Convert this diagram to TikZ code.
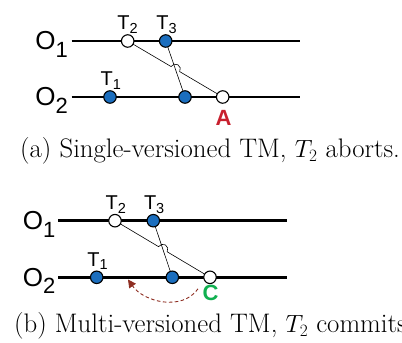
\documentclass[tikz,border=0pt]{standalone}
\usepackage{fontspec}
\newfontfamily\arialf{Liberation Sans}
\usetikzlibrary{calc,arrows.meta}
\definecolor{tmblue}{RGB}{27,110,190}
\definecolor{tmred}{RGB}{200,32,46}
\definecolor{tmgreen}{RGB}{16,176,80}
\definecolor{tmarrow}{RGB}{142,46,34}
\tikzset{
  objline/.style={line width=2.8pt},
  link/.style={line width=0.6pt},
  txwhite/.style={circle, draw=black, line width=1.1pt, fill=white, minimum size=12.5pt, inner sep=0pt},
  txblue/.style={circle, draw=black, line width=1.1pt, fill=tmblue, minimum size=12.5pt, inner sep=0pt},
  objlabel/.style={font=\arialf\fontsize{26}{26}\selectfont, anchor=base west, inner sep=0pt},
  tlabel/.style={font=\arialf\fontsize{20}{20}\selectfont, anchor=base west, inner sep=0pt},
  statelabel/.style={font=\arialf\bfseries\fontsize{22}{22}\selectfont, inner sep=0pt},
  caption/.style={font=\fontsize{26.8}{30}\selectfont, anchor=base west, inner sep=0pt},
  backarrow/.style={draw=tmarrow, line width=0.9pt, dash pattern=on 3.5pt off 2.5pt, -{Triangle[length=8pt,width=8pt]}}
}
\newcommand{\osub}[2]{#1\raisebox{-7.5pt}{\fontsize{22}{22}\selectfont #2}}
\newcommand{\tsub}[2]{#1\raisebox{-3.5pt}{\fontsize{14.5}{14.5}\selectfont #2}}
\begin{document}
\begin{tikzpicture}[x=1pt,y=1pt]
\useasboundingbox (0,0) rectangle (402,343);

% ---------- panel (a) ----------
\coordinate (a-o1s) at (71.7,302);
\coordinate (a-o1e) at (300,302);
\coordinate (a-o2s) at (71.7,246);
\coordinate (a-o2e) at (300,246);
\coordinate (a-T2) at (127.7,302);
\coordinate (a-T3) at (165.7,302);
\coordinate (a-T1) at (110,246);
\coordinate (a-M)  at (185,246);
\coordinate (a-A)  at (222.7,246);
\coordinate (a-X) at (intersection of a-T2--a-A and a-T3--a-M);

\draw[objline] (a-o1s) -- (a-o1e);
\draw[objline] (a-o2s) -- (a-o2e);
\draw[link] (a-T3) -- (a-M);
\draw[link] let \p1=($(a-A)-(a-T2)$), \n1={atan2(\y1,\x1)} in
  (a-T2) -- ($(a-X)!5pt!(a-T2)$) arc[start angle=\n1+180, end angle=\n1, radius=5pt] -- (a-A);

\node[txwhite] (a-n2) at (a-T2) {};
\node[txblue]  (a-n3) at (a-T3) {};
\node[txblue]  (a-n1) at (a-T1) {};
\node[txblue]  (a-nm) at (a-M) {};
\node[txwhite] (a-na) at (a-A) {};

\node[objlabel] (a-lo1) at ($(a-o1s)+(-36.5,-9)$) {\osub{O}{1}};
\node[objlabel] (a-lo2) at ($(a-o2s)+(-36.5,-9)$) {\osub{O}{2}};
\node[tlabel] (a-l2) at ($(a-T2)+(-10.5,11)$) {\tsub{T}{2}};
\node[tlabel] (a-l3) at ($(a-T3)+(-9.5,11)$) {\tsub{T}{3}};
\node[tlabel] (a-l1) at ($(a-T1)+(-9.5,11)$) {\tsub{T}{1}};
\node[statelabel, text=tmred] (a-la) at ($(a-A)+(0.8,-21)$) {A};

\node[caption] (a-cap) at (20,185) {(a) Single-versioned TM, $T_2$ aborts.};

% ---------- panel (b) ----------
\coordinate (b-o1s) at (58.3,122.3);
\coordinate (b-o1e) at (286.7,122.3);
\coordinate (b-o2s) at (58.3,65.7);
\coordinate (b-o2e) at (286.7,65.7);
\coordinate (b-T2) at (115,122.3);
\coordinate (b-T3) at (153.3,122.3);
\coordinate (b-T1) at (96.7,65.7);
\coordinate (b-M)  at (172.3,65.7);
\coordinate (b-C)  at (210,65.7);
\coordinate (b-X) at (intersection of b-T2--b-C and b-T3--b-M);
\coordinate (b-from) at ($(b-C)+(-12,-11.5)$);
\coordinate (b-to) at (128,63.5);

\draw[objline] (b-o1s) -- (b-o1e);
\draw[objline] (b-o2s) -- (b-o2e);
\draw[link] (b-T3) -- (b-M);
\draw[link] let \p1=($(b-C)-(b-T2)$), \n1={atan2(\y1,\x1)} in
  (b-T2) -- ($(b-X)!5pt!(b-T2)$) arc[start angle=\n1+180, end angle=\n1, radius=5pt] -- (b-C);

\node[txwhite] (b-n2) at (b-T2) {};
\node[txblue]  (b-n3) at (b-T3) {};
\node[txblue]  (b-n1) at (b-T1) {};
\node[txblue]  (b-nm) at (b-M) {};
\node[txwhite] (b-nc) at (b-C) {};

\node[objlabel] (b-lo1) at ($(b-o1s)+(-35.5,-9)$) {\osub{O}{1}};
\node[objlabel] (b-lo2) at ($(b-o2s)+(-35.5,-9)$) {\osub{O}{2}};
\node[tlabel] (b-l2) at ($(b-T2)+(-9.5,11)$) {\tsub{T}{2}};
\node[tlabel] (b-l3) at ($(b-T3)+(-9.5,11)$) {\tsub{T}{3}};
\node[tlabel] (b-l1) at ($(b-T1)+(-9.5,11)$) {\tsub{T}{1}};
\node[statelabel, text=tmgreen] (b-lc) at ($(b-C)+(0.5,-16)$) {C};

\draw[backarrow] (b-from) to[out=-125, in=-55] (b-to);

\node[caption] (b-cap) at (14,10.5) {(b) Multi-versioned TM, $T_2$ commits};
\end{tikzpicture}
\end{document}
